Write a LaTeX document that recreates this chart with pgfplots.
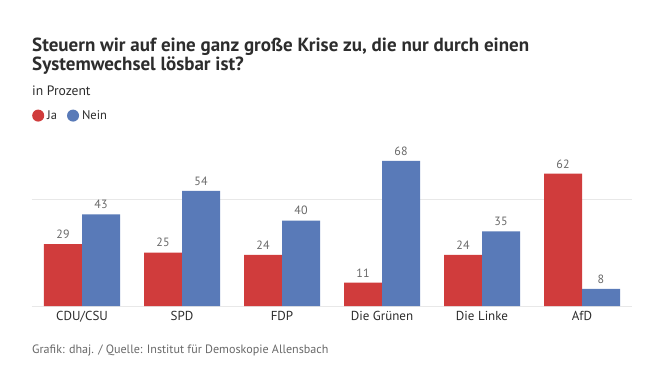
\documentclass[border=0pt]{standalone}
\usepackage{fontspec}
\setmainfont{PT Sans}
\usepackage{pgfplots}
\pgfplotsset{compat=1.18}
\definecolor{jared}{RGB}{208,60,60}
\definecolor{neinblue}{RGB}{89,122,184}
\definecolor{txt}{RGB}{45,45,45}
\definecolor{greytxt}{RGB}{105,105,105}
\definecolor{gridc}{RGB}{232,232,232}
\pgfplotsset{dotlegend/.style={legend image code/.code={\fill[##1] (3pt,0pt) circle (6pt);}}}
\begin{document}
\begin{tikzpicture}
\useasboundingbox[fill=white] (0pt,0pt) rectangle (650pt,-375pt);
\node[anchor=base west, font=\bfseries\fontsize{19}{22}\selectfont, text=txt, align=left, inner sep=0pt] at (32pt,-51pt) {Steuern wir auf eine ganz große Krise zu, die nur durch einen};
\node[anchor=base west, font=\bfseries\fontsize{19}{22}\selectfont, text=txt, inner sep=0pt] at (32pt,-70pt) {Systemwechsel lösbar ist?};
\node[anchor=base west, font=\fontsize{13.6}{16}\selectfont, text=txt, inner sep=0pt] at (32pt,-95pt) {in Prozent};
\node[anchor=base west, font=\fontsize{12.1}{14}\selectfont, text=greytxt, inner sep=0pt] at (32pt,-353pt) {Grafik: dhaj. / Quelle: Institut für Demoskopie Allensbach};
\begin{axis}[
  at={(32pt,-306pt)}, anchor=south west, scale only axis,
  width=600pt, height=160pt,
  xmin=-0.5, xmax=5.5, ymin=0, ymax=75,
  ybar=0pt, bar width=0.38,
  axis x line*=bottom, axis y line*=left,
  axis line style={draw=none},
  xtick=data,
  xticklabels={CDU/CSU,SPD,FDP,Die Grünen,Die Linke,AfD},
  xticklabel style={font=\fontsize{13}{15}\selectfont, text=txt, yshift=-2pt},
  major tick length=0pt,
  ytick={0,50}, yticklabels={},
  ymajorgrids, grid style={gridc, line width=0.8pt},
  /pgf/number format/assume math mode=true,
  nodes near coords,
  every node near coord/.append style={font=\fontsize{12}{14}\selectfont, text=greytxt, yshift=2pt},
  legend style={at={(axis description cs:0,1.19)}, anchor=west, draw=none, fill=none,
    font=\fontsize{12.5}{14}\selectfont, text=txt, inner sep=0pt,
    /tikz/every odd column/.append style={column sep=1pt},
    /tikz/every even column/.append style={column sep=8pt}},
  legend columns=2,
]
\addplot[fill=jared, draw=none, dotlegend] coordinates {(0,29) (1,25) (2,24) (3,11) (4,24) (5,62)};
\addplot[fill=neinblue, draw=none, dotlegend] coordinates {(0,43) (1,54) (2,40) (3,68) (4,35) (5,8)};
\legend{Ja,Nein}
\end{axis}
\end{tikzpicture}
\end{document}
